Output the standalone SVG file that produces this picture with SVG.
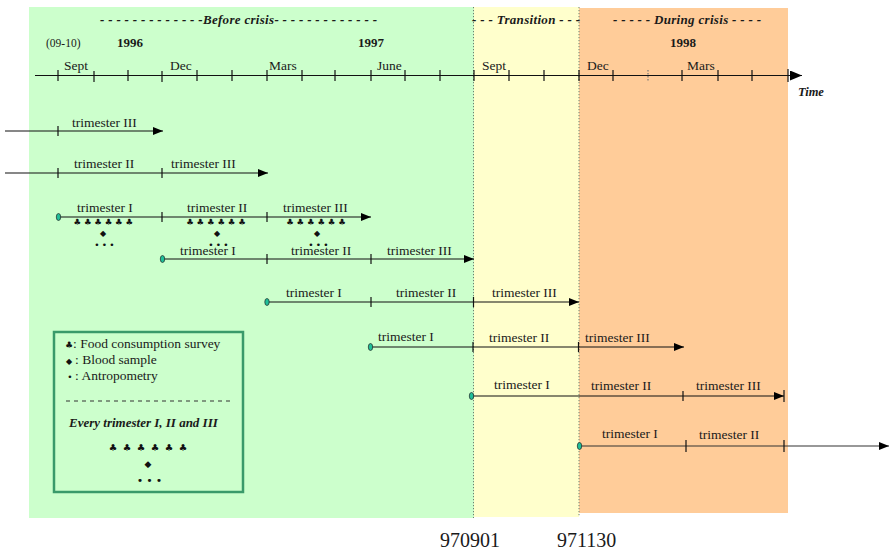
<svg xmlns="http://www.w3.org/2000/svg" width="889" height="550" viewBox="0 0 889 550">
<defs>
<style>
.t{font-family:"Liberation Serif","Times New Roman",serif;font-size:13.5px;fill:#1a1a1a}
.b{font-weight:bold}
.bi{font-weight:bold;font-style:italic}
.ln{stroke:#111;stroke-width:1.2;fill:none}
.tk{stroke:#111;stroke-width:1.2}
.dv{stroke:#6f7f6f;stroke-width:1;stroke-dasharray:1.2 1.8}
.st{fill:#1fbf99;stroke:#222;stroke-width:0.7}
.sym{font-family:"DejaVu Sans",sans-serif;fill:#111;text-anchor:middle}
</style>
<marker id="ah" viewBox="0 0 10 8" refX="10" refY="4" markerWidth="10" markerHeight="8" markerUnits="userSpaceOnUse" orient="auto">
<path d="M0,0 L10,4 L0,8 z" fill="#000"/>
</marker>
<marker id="ah2" viewBox="0 0 12 10" refX="12" refY="5" markerWidth="12" markerHeight="10" markerUnits="userSpaceOnUse" orient="auto">
<path d="M0,0 L12,5 L0,10 z" fill="#000"/>
</marker>
</defs>

<g id="background">
<rect x="29" y="7" width="445" height="511" fill="#ccffcc"/>
<rect x="474" y="7" width="105" height="510" fill="#ffffcc"/>
<rect x="579" y="8" width="209" height="505" fill="#ffcc99"/>
<line class="dv" x1="473.5" y1="7" x2="473.5" y2="518"/>
<line class="dv" x1="579" y1="7" x2="579" y2="517"/>
</g>

<g id="headers">
<text class="t bi" x="100" y="24" style="font-size:13px" textLength="277" lengthAdjust="spacing">- - - - - - - - - - - - -Before crisis- - - - - - - - - - - - -</text>
<text class="t bi" x="472" y="24" style="font-size:13px" textLength="108" lengthAdjust="spacing">- - - Transition - - -</text>
<text class="t bi" x="613" y="24" style="font-size:13px" textLength="148" lengthAdjust="spacing">- - - - - During crisis - - - -</text>
<text class="t" x="46" y="47" style="font-size:11.5px">(09-10)</text>
<text class="t b" x="117" y="47" style="font-size:13px">1996</text>
<text class="t b" x="358" y="47" style="font-size:13px">1997</text>
<text class="t b" x="670" y="47" style="font-size:13px">1998</text>
</g>

<g id="axis">
<line class="ln" x1="35" y1="75.5" x2="802" y2="75.5" marker-end="url(#ah2)"/>
<g class="tk">
<line x1="58" y1="70" x2="58" y2="81"/>
<line x1="94" y1="71" x2="94" y2="82"/>
<line x1="128" y1="70" x2="128" y2="81"/>
<line x1="162" y1="71" x2="162" y2="82"/>
<line x1="197" y1="70" x2="197" y2="81"/>
<line x1="232" y1="70" x2="232" y2="81"/>
<line x1="267" y1="70" x2="267" y2="81"/>
<line x1="302" y1="70" x2="302" y2="81"/>
<line x1="335" y1="70" x2="335" y2="81"/>
<line x1="371" y1="70" x2="371" y2="81"/>
<line x1="405" y1="70" x2="405" y2="81"/>
<line x1="440" y1="70" x2="440" y2="81"/>
<line x1="474" y1="70" x2="474" y2="81"/>
<line x1="509" y1="70" x2="509" y2="81"/>
<line x1="544" y1="70" x2="544" y2="81"/>
<line x1="579" y1="70" x2="579" y2="81"/>
<line x1="613" y1="70" x2="613" y2="81"/>
<line x1="648" y1="70" x2="648" y2="81" style="stroke:#777;stroke-dasharray:1.5 1.5"/>
<line x1="682" y1="70" x2="682" y2="81"/>
<line x1="718" y1="70" x2="718" y2="81"/>
<line x1="752" y1="70" x2="752" y2="81"/>
<line x1="788" y1="69" x2="788" y2="82"/>
</g>
<text class="t" x="64" y="70">Sept</text>
<text class="t" x="170" y="70">Dec</text>
<text class="t" x="269" y="70">Mars</text>
<text class="t" x="377" y="70">June</text>
<text class="t" x="482" y="70">Sept</text>
<text class="t" x="587" y="70">Dec</text>
<text class="t" x="687" y="70">Mars</text>
<text class="t bi" x="798" y="96" style="font-size:12.5px">Time</text>
</g>

<g id="connectors">
<!-- row 1 -->
<line class="ln" x1="5" y1="131" x2="163" y2="131" marker-end="url(#ah)"/>
<line class="tk" x1="58" y1="126" x2="58" y2="136"/>
<!-- row 2 -->
<line class="ln" x1="5" y1="173" x2="268" y2="173" marker-end="url(#ah)"/>
<line class="tk" x1="58" y1="168" x2="58" y2="178"/>
<line class="tk" x1="162" y1="168" x2="162" y2="178"/>
<!-- row 3 -->
<line class="ln" x1="58" y1="217" x2="371" y2="217" marker-end="url(#ah)"/>
<line class="tk" x1="162" y1="212" x2="162" y2="222"/>
<line class="tk" x1="267" y1="212" x2="267" y2="222"/>
<!-- row 4 -->
<line class="ln" x1="162" y1="259" x2="474" y2="259" marker-end="url(#ah)"/>
<line class="tk" x1="267" y1="254" x2="267" y2="264"/>
<line class="tk" x1="371" y1="254" x2="371" y2="264"/>
<!-- row 5 -->
<line class="ln" x1="267" y1="302" x2="579" y2="302" marker-end="url(#ah)"/>
<line class="tk" x1="371" y1="297" x2="371" y2="307"/>
<line class="tk" x1="473.5" y1="297" x2="473.5" y2="307"/>
<!-- row 6 -->
<line class="ln" x1="370" y1="347" x2="684" y2="347" marker-end="url(#ah)"/>
<line class="tk" x1="473" y1="342" x2="473" y2="352"/>
<line class="tk" x1="578.5" y1="342" x2="578.5" y2="352"/>
<!-- row 7 -->
<line class="ln" x1="472" y1="396" x2="784" y2="396" marker-end="url(#ah)"/>
<line class="tk" x1="683" y1="391" x2="683" y2="401"/>
<line class="tk" x1="784" y1="390" x2="784" y2="402"/>
<!-- row 8 -->
<line class="ln" x1="579" y1="446" x2="889" y2="446" style="stroke:#333" marker-end="url(#ah)"/>
<line class="tk" x1="686" y1="440" x2="686" y2="452"/>
<line class="tk" x1="784" y1="440" x2="784" y2="452"/>
</g>

<g id="starts">
<ellipse class="st" cx="58.5" cy="217" rx="2.2" ry="3.5"/>
<ellipse class="st" cx="162.5" cy="259" rx="2.2" ry="3.5"/>
<ellipse class="st" cx="267" cy="302" rx="2.2" ry="3.5"/>
<ellipse class="st" cx="370.5" cy="347" rx="2.2" ry="3.5"/>
<ellipse class="st" cx="471.5" cy="396" rx="2.2" ry="3.5"/>
<ellipse class="st" cx="579.5" cy="446" rx="2.2" ry="3.5"/>
</g>

<g id="row1-labels">
<text class="t" x="72" y="127">trimester III</text>
</g>
<g id="row2-labels">
<text class="t" x="74" y="168">trimester II</text>
<text class="t" x="171" y="168">trimester III</text>
</g>
<g id="row3-labels">
<text class="t" x="77" y="212">trimester I</text>
<text class="t" x="187" y="212">trimester II</text>
<text class="t" x="283" y="212">trimester III</text>
</g>
<g id="row3-measures">
<text class="sym" style="font-size:8.5px" x="77.3 87.7 98.1 108.5 118.9 129.3" y="225">♣♣♣♣♣♣</text>
<text class="sym" style="font-size:8px" x="103" y="236">◆</text>
<text class="sym" style="font-size:9px" x="97 104.5 112" y="248">•••</text>
<text class="sym" style="font-size:8.5px" x="190 200.4 210.8 221.2 231.6 242" y="225">♣♣♣♣♣♣</text>
<text class="sym" style="font-size:8px" x="217" y="236">◆</text>
<text class="sym" style="font-size:9px" x="211 218.5 226" y="248">•••</text>
<text class="sym" style="font-size:8.5px" x="290 300.4 310.8 321.2 331.6 342" y="225">♣♣♣♣♣♣</text>
<text class="sym" style="font-size:8px" x="317" y="236">◆</text>
<text class="sym" style="font-size:9px" x="311 318.5 326" y="248">•••</text>
</g>
<g id="row4-labels">
<text class="t" x="180" y="255">trimester I</text>
<text class="t" x="291" y="255">trimester II</text>
<text class="t" x="387" y="255">trimester III</text>
</g>
<g id="row5-labels">
<text class="t" x="286" y="297">trimester I</text>
<text class="t" x="396" y="297">trimester II</text>
<text class="t" x="492" y="297">trimester III</text>
</g>
<g id="row6-labels">
<text class="t" x="378" y="341">trimester I</text>
<text class="t" x="489" y="342">trimester II</text>
<text class="t" x="585" y="342">trimester III</text>
</g>
<g id="row7-labels">
<text class="t" x="494" y="389">trimester I</text>
<text class="t" x="591" y="390">trimester II</text>
<text class="t" x="696" y="390">trimester III</text>
</g>
<g id="row8-labels">
<text class="t" x="602" y="438">trimester I</text>
<text class="t" x="699" y="439">trimester II</text>
</g>

<g id="legend">
<rect x="54" y="332" width="189" height="160" fill="none" stroke="#3a9a6a" stroke-width="2.5"/>
<text class="sym" style="font-size:9px" x="69" y="348">♣</text>
<text class="t" x="73" y="348">: Food consumption survey</text>
<text class="sym" style="font-size:8px" x="69" y="364">◆</text>
<text class="t" x="75" y="364">: Blood sample</text>
<text class="sym" style="font-size:9px" x="70" y="380">•</text>
<text class="t" x="75" y="380">: Antropometry</text>
<line x1="66" y1="401" x2="230" y2="401" stroke="#333" stroke-width="1" stroke-dasharray="4 4"/>
<text class="t bi" x="69" y="427" style="font-size:13px">Every trimester I, II and III</text>
<text class="sym" style="font-size:9.5px" x="113 127 141 155 169 183" y="451">♣♣♣♣♣♣</text>
<text class="sym" style="font-size:9px" x="148" y="467">◆</text>
<text class="sym" style="font-size:11px" x="140 149.5 159" y="484">•••</text>
</g>

<g id="dates">
<text class="t" x="440" y="547" style="font-size:20px">970901</text>
<text class="t" x="557" y="547" style="font-size:20px">971130</text>
</g>
</svg>
